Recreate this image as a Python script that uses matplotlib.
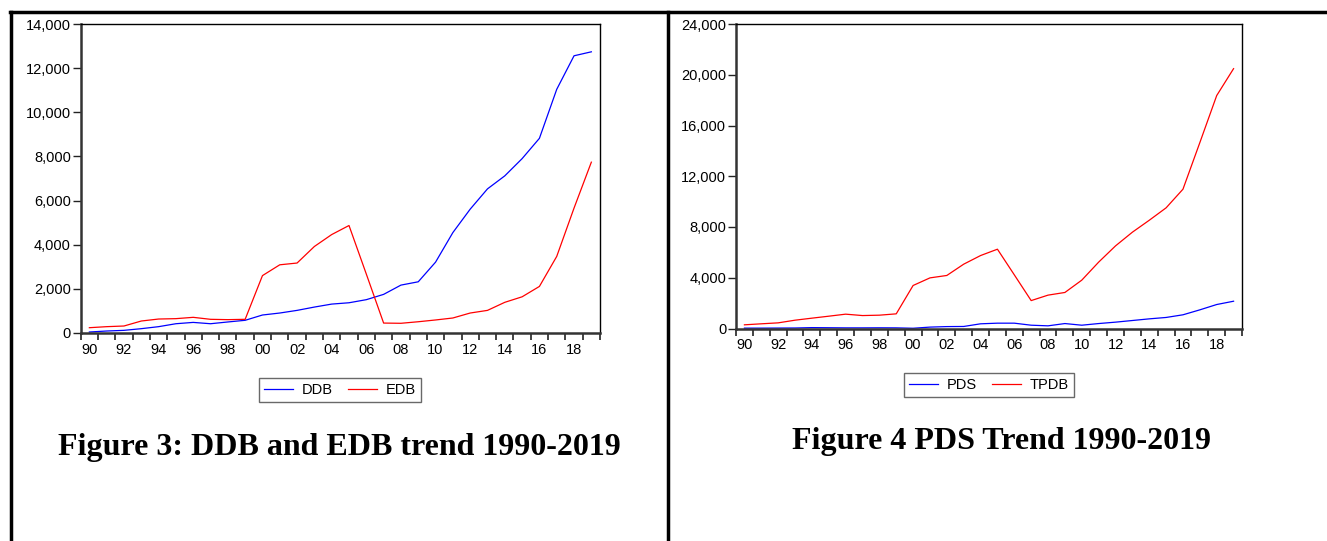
import numpy as np
import matplotlib
matplotlib.use('Agg')
import matplotlib.pyplot as plt
from matplotlib.lines import Line2D
from matplotlib.ticker import FuncFormatter, MultipleLocator, FixedLocator

years = np.arange(1990, 2020)

ddb = [45, 90, 120, 196, 287, 420, 480, 420, 500, 575,
       815, 905, 1025, 1175, 1310, 1370, 1510, 1750, 2170, 2320,
       3210, 4550, 5610, 6530, 7120, 7900, 8820, 11040, 12560, 12740]
edb = [240, 287, 317, 543, 633, 650, 710, 620, 605, 620,
       2600, 3090, 3170, 3920, 4460, 4870, 2670, 450, 440, 510,
       590, 680, 905, 1025, 1390, 1640, 2110, 3470, 5660, 7740]

pds = [30, 30, 35, 40, 70, 60, 50, 50, 55, 50,
       20, 110, 150, 160, 370, 420, 420, 260, 210, 390,
       260, 390, 500, 630, 760, 870, 1080, 1470, 1890, 2150]
tpdb = [290, 370, 445, 655, 815, 970, 1130, 1020, 1050, 1155,
        3390, 3990, 4180, 5070, 5750, 6250, 4230, 2200, 2630, 2840,
        3810, 5230, 6510, 7590, 8530, 9510, 10980, 14650, 18360, 20480]

plt.rcParams['font.family'] = ['Liberation Sans', 'DejaVu Sans']

fig = plt.figure(figsize=(13.27, 5.41), dpi=100)

# table frame lines
fig.add_artist(Line2D([10 / 1327, 1.0], [1 - 12 / 541, 1 - 12 / 541], color='black', lw=2.5))
fig.add_artist(Line2D([11 / 1327, 11 / 1327], [0, 1 - 12 / 541], color='black', lw=2.5))
fig.add_artist(Line2D([668 / 1327, 668 / 1327], [0, 1 - 12 / 541], color='black', lw=2.5))


def eviews_axes(rect, s1, s2, names, ymax, ystep, leg_xy, title, title_xy):
    ax = fig.add_axes(rect)
    ax.plot(years, s1, color='#0000ff', lw=0.9, label=names[0])
    ax.plot(years, s2, color='#ff0000', lw=0.9, label=names[1])
    ax.set_xlim(1989.5, 2019.5)
    ax.set_ylim(0, ymax)
    ax.yaxis.set_major_locator(MultipleLocator(ystep))
    ax.yaxis.set_major_formatter(FuncFormatter(lambda v, p: '{:,.0f}'.format(v)))
    ax.xaxis.set_major_locator(MultipleLocator(1, offset=0.5))
    ax.xaxis.set_major_formatter(FuncFormatter(lambda v, p: ''))
    ax.xaxis.set_minor_locator(FixedLocator(years[::2]))
    ax.xaxis.set_minor_formatter(FuncFormatter(lambda v, p: '{:02d}'.format(int(round(v)) % 100)))
    ax.tick_params(axis='x', which='major', direction='out', length=5, width=1.2, color='#222222')
    ax.tick_params(axis='x', which='minor', length=0, pad=7, labelsize=10.5)
    ax.tick_params(axis='y', direction='out', length=6, width=1, pad=1, labelsize=10.5, color='#222222')
    for side in ['left', 'bottom']:
        ax.spines[side].set_linewidth(1.8)
        ax.spines[side].set_color('#333333')
    for side in ['top', 'right']:
        ax.spines[side].set_linewidth(1.0)
        ax.spines[side].set_color('black')
    leg = fig.legend(handles=ax.get_lines(), loc='center', bbox_to_anchor=leg_xy, ncol=2,
                     fontsize=10.5, frameon=True, fancybox=False, handlelength=2.0,
                     columnspacing=1.0, handletextpad=0.6, borderpad=0.35, borderaxespad=0)
    leg.get_frame().set_edgecolor('#444444')
    leg.get_frame().set_linewidth(1.0)
    fig.text(title_xy[0], title_xy[1], title, ha='center', va='center',
             family=['Liberation Serif', 'DejaVu Serif'], fontweight='bold', fontsize=23)
    return ax


eviews_axes([80.7 / 1327, 1 - 333 / 541, (600 - 80.7) / 1327, (333 - 24) / 541],
            ddb, edb, ['DDB', 'EDB'], 14000, 2000, (340 / 1327, 1 - 390 / 541),
            'Figure 3: DDB and EDB trend 1990-2019', (339 / 1327, 1 - 448 / 541))

eviews_axes([736 / 1327, 1 - 328.5 / 541, (1242 - 736) / 1327, (328.5 - 24) / 541],
            pds, tpdb, ['PDS', 'TPDB'], 24000, 4000, (989 / 1327, 1 - 385 / 541),
            'Figure 4 PDS Trend 1990-2019', (1001 / 1327, 1 - 441 / 541))

fig.savefig('out.png', dpi=100)
